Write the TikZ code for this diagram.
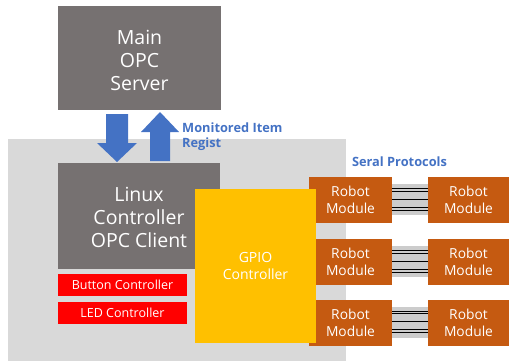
\documentclass[tikz,border=0pt]{standalone}
\usepackage{fontspec}
\setmainfont{Open Sans}
\usetikzlibrary{calc}
\definecolor{panelgray}{HTML}{D9D9D9}
\definecolor{servergray}{HTML}{767171}
\definecolor{modorange}{HTML}{C55A11}
\definecolor{gpioyellow}{HTML}{FFC000}
\definecolor{ctlred}{HTML}{FF0000}
\definecolor{linkblue}{HTML}{4472C4}
\definecolor{cablegray}{HTML}{CCCCCC}
\tikzset{
  block/.style={inner sep=0pt, align=center, text=white},
  bigbox/.style={block, fill=servergray, font=\fontsize{19.5}{23}\selectfont},
  ctlbox/.style={block, fill=ctlred, minimum width=129pt, minimum height=22pt, font=\fontsize{12.5}{15}\selectfont},
  module/.style={block, fill=modorange, minimum height=46pt, font=\fontsize{13.8}{17}\selectfont},
  bluelabel/.style={inner sep=0pt, text=linkblue, font=\bfseries\fontsize{12.8}{15.5}\selectfont},
  cable/.style={fill=cablegray},
  wire/.style={draw=black, line width=1pt},
  blockarrow/.style={fill=linkblue}
}
\begin{document}
\begin{tikzpicture}[x=1pt,y=-1pt]
\useasboundingbox (0,0) rectangle (509,361);

% controller panel
\fill[panelgray] (8,139) rectangle (346,361);

% server and controller boxes
\node[bigbox, minimum width=163pt, minimum height=104pt] (server) at (139.5,58) {};
\node[block, font=\fontsize{19.5}{23}\selectfont] at (139.5,60.5) {Main\\OPC\\Server};
\node[bigbox, minimum width=162pt, minimum height=106pt] (linux) at (139,216) {};
\node[block, font=\fontsize{19.5}{23}\selectfont] at (139,217.5) {Linux\\Controller\\OPC Client};

% request / response block arrows
\fill[blockarrow] (106,114) -- (128,114) -- (128,143) -- (137,143) -- (117,162) -- (97,143) -- (106,143) -- cycle;
\fill[blockarrow] (150,161) -- (170,161) -- (170,132) -- (179,132) -- (160,112) -- (141,132) -- (150,132) -- cycle;
\node[bluelabel, anchor=west, align=left] (mon) at (182,136.5) {Monitored Item\\Regist};

% button / LED controllers
\node[ctlbox] (button) at (122.5,285) {Button Controller};
\node[ctlbox] (led) at (122.5,313) {LED Controller};

% robot modules, left column (partly under the GPIO box)
\node[module, minimum width=83pt] (l1) at (350.5,200) {Robot\\Module};
\node[module, minimum width=83pt, text opacity=0] (l2) at (350.5,262) {Robot\\Module};
\node[module, minimum width=83pt, text opacity=0] (l3) at (350.5,322.5) {Robot\\Module};

% GPIO controller
\node[block, fill=gpioyellow, minimum width=121pt, minimum height=154pt, font=\fontsize{14}{17}\selectfont] (gpio) at (255.5,266) {GPIO\\Controller};

% labels of the lower left modules, set over the GPIO box edge
\node[block, font=\fontsize{13.8}{17}\selectfont] at (l2) {Robot\\Module};
\node[block, font=\fontsize{13.8}{17}\selectfont] at (l3) {Robot\\Module};

% robot modules, right column
\node[module, minimum width=81pt] (r1) at (468.5,200) {Robot\\Module};
\node[module, minimum width=81pt] (r2) at (468.5,262) {Robot\\Module};
\node[module, minimum width=81pt] (r3) at (468.5,322.5) {Robot\\Module};

% serial ribbon cables between module pairs
\foreach \i in {1,2,3}{
  \fill[cable] ($(l\i.east)+(0,-16)$) rectangle ($(r\i.west)+(0,15)$);
  \foreach \dy in {-11.3,-8.7,-1,7.3,10.3}{
    \draw[wire] ($(l\i.east)+(0,\dy)$) -- ($(r\i.west)+(0,\dy)$);
  }
}
\node[bluelabel] (serial) at (399.5,162) {Seral Protocols};
\end{tikzpicture}
\end{document}
